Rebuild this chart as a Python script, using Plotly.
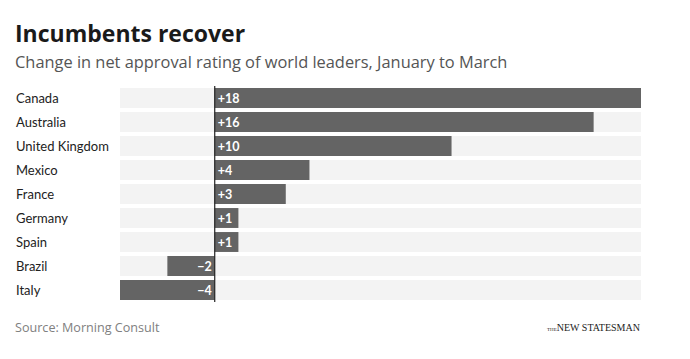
import plotly.graph_objects as go

countries = ["Canada", "Australia", "United Kingdom", "Mexico", "France",
             "Germany", "Spain", "Brazil", "Italy"]
changes = [18, 16, 10, 4, 3, 1, 1, -2, -4]
x_min, x_max = -4, 18

labels = [("+" if v > 0 else "\u2212") + str(abs(v)) for v in changes]

# page has an 8px body margin, so draw at 682x351 and shift everything by -8
OFF = 8
W, H = 690 - OFF, 359 - OFF
ml, mr, mt = 120 - OFF, 49, 86 - OFF
ph = 216
mb = H - mt - ph
pw = W - ml - mr


def px(xabs):
    return (xabs - OFF - ml) / pw


def py(yabs):
    return 1 - (yabs - OFF - mt) / ph


fig = go.Figure()
fig.add_trace(go.Bar(
    y=countries, x=[x_max - x_min] * len(countries), base=[x_min] * len(countries),
    orientation="h", marker=dict(color="#f3f3f3", line=dict(width=0)),
    hoverinfo="skip", showlegend=False))
fig.add_trace(go.Bar(
    y=countries, x=changes, orientation="h",
    marker=dict(color="#646464", line=dict(width=0)),
    text=labels, textposition="inside", insidetextanchor="start", textangle=0,
    textfont=dict(family="Lato", size=12.5, color="white", weight="bold"),
    cliponaxis=False, showlegend=False))

fig.add_shape(type="line", xref="x", yref="paper", x0=0, x1=0, y0=0, y1=1,
              line=dict(color="#222222", width=1.2))

for c in countries:
    fig.add_annotation(xref="paper", yref="y", x=px(14), y=c, text=c,
                       showarrow=False, xanchor="left",
                       font=dict(family="Lato", size=13, color="#222222"))

fig.add_annotation(xref="paper", yref="paper", x=px(13), xanchor="left",
                   y=py(33), yanchor="middle",
                   text="<b>Incumbents recover</b>", showarrow=False,
                   font=dict(family="Open Sans", size=23, color="#1a1a1a"))
fig.add_annotation(xref="paper", yref="paper", x=px(13), xanchor="left",
                   y=py(61), yanchor="middle",
                   text="Change in net approval rating of world leaders, January to March",
                   showarrow=False, font=dict(family="Open Sans", size=16.4, color="#555555"))
fig.add_annotation(xref="paper", yref="paper", x=px(13), xanchor="left",
                   y=py(327), yanchor="middle",
                   text="Source: Morning Consult", showarrow=False,
                   font=dict(family="Open Sans", size=12.6, color="#808080"))
fig.add_annotation(xref="paper", yref="paper", x=px(642), xanchor="right",
                   y=py(327), yanchor="middle",
                   text="<span style='font-size:5px'>THE</span>NEW STATESMAN",
                   showarrow=False,
                   font=dict(family="Liberation Serif", size=10, color="#222222"))

fig.update_layout(
    width=W, height=H, margin=dict(l=ml, r=mr, t=mt, b=mb),
    paper_bgcolor="white", plot_bgcolor="white",
    barmode="overlay", bargap=0.17,
    uniformtext=dict(minsize=12, mode="show"),
    xaxis=dict(range=[x_min, x_max], visible=False, fixedrange=True),
    yaxis=dict(autorange="reversed", showticklabels=False, showgrid=False,
               zeroline=False, fixedrange=True),
)

fig.write_html("out.html")
